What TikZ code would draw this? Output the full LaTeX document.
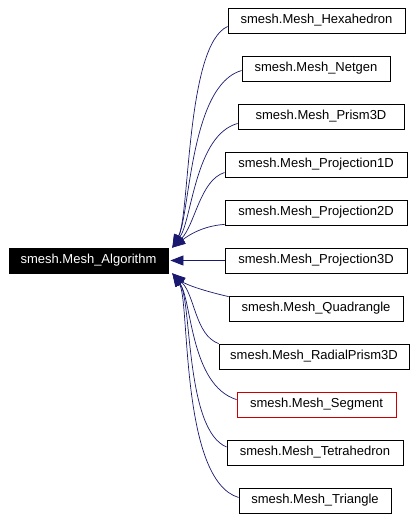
\documentclass[tikz,border=0pt]{standalone}
\usepackage{fontspec}
\setmainfont{Liberation Sans}
\usetikzlibrary{arrows.meta}
\definecolor{navy}{HTML}{191970}
\definecolor{segred}{HTML}{CC0000}
\tikzset{
  cls/.style={draw=black, fill=white, line width=0.8pt, minimum height=25pt, inner sep=0pt, font=\fontsize{13}{15}\selectfont},
  basecls/.style={cls, fill=black, text=white},
  edge/.style={draw=navy, line width=0.7pt, {Triangle[length=13pt,width=10pt]}-}
}
\begin{document}
\begin{tikzpicture}[x=1pt,y=-1pt]
\useasboundingbox (0,0) rectangle (420,519);
\node[basecls, minimum width=159pt] (base) at (88.5,260.5) {smesh.Mesh\_Algorithm};
\node[cls, minimum width=177pt] (hex) at (316.5,20.5) {smesh.Mesh\_Hexahedron};
\node[cls, minimum width=148pt] (netgen) at (316,68.5) {smesh.Mesh\_Netgen};
\node[cls, minimum width=166pt] (prism) at (321,116.5) {smesh.Mesh\_Prism3D};
\node[cls, minimum width=182pt] (pa) at (316,164.5) {smesh.Mesh\_Projection1D};
\node[cls, minimum width=182pt] (pb) at (316,212.5) {smesh.Mesh\_Projection2D};
\node[cls, minimum width=182pt] (pc) at (316,260.5) {smesh.Mesh\_Projection3D};
\node[cls, minimum width=174pt] (quad) at (316,308.5) {smesh.Mesh\_Quadrangle};
\node[cls, minimum width=190pt] (radial) at (314,356.5) {smesh.Mesh\_RadialPrism3D};
\node[cls, draw=segred, minimum width=159pt] (segment) at (316.5,404.5) {smesh.Mesh\_Segment};
\node[cls, minimum width=176pt] (tetra) at (315,452.5) {smesh.Mesh\_Tetrahedron};
\node[cls, minimum width=152pt] (tri) at (315,500.5) {smesh.Mesh\_Triangle};
% upper edges
\draw[edge] ([xshift=4pt]base.north east) .. controls (190,215) and (186,45) .. ([yshift=-6pt]hex.west);
\draw[edge] ([xshift=4pt]base.north east) .. controls (190,215) and (190,85) .. ([yshift=-2pt]netgen.west);
\draw[edge] ([xshift=4pt]base.north east) .. controls (192,220) and (195,135) .. ([yshift=-7pt]prism.west);
\draw[edge] ([xshift=4pt]base.north east) .. controls (195,225) and (200,180) .. ([yshift=-8pt]pa.west);
\draw[edge] ([xshift=4pt]base.north east) .. controls (185,238) and (200,226) .. ([yshift=1pt]pb.south west);
% middle
\draw[edge, shorten <=2pt] (base.east) -- (pc.west);
% lower edges
\draw[edge] ([xshift=4pt]base.south east) .. controls (185,284) and (200,290) .. ([yshift=-1pt]quad.north west);
\draw[edge] ([xshift=4pt]base.south east) .. controls (195,295) and (195,335) .. (radial.north west);
\draw[edge] ([xshift=4pt]base.south east) .. controls (192,300) and (190,385) .. ([yshift=-8pt]segment.north west);
\draw[edge] ([xshift=4pt]base.south east) .. controls (192,300) and (185,430) .. ([yshift=5.5pt]tetra.west);
\draw[edge] ([xshift=4pt]base.south east) .. controls (190,300) and (180,480) .. ([yshift=3pt]tri.west);
\end{tikzpicture}
\end{document}
